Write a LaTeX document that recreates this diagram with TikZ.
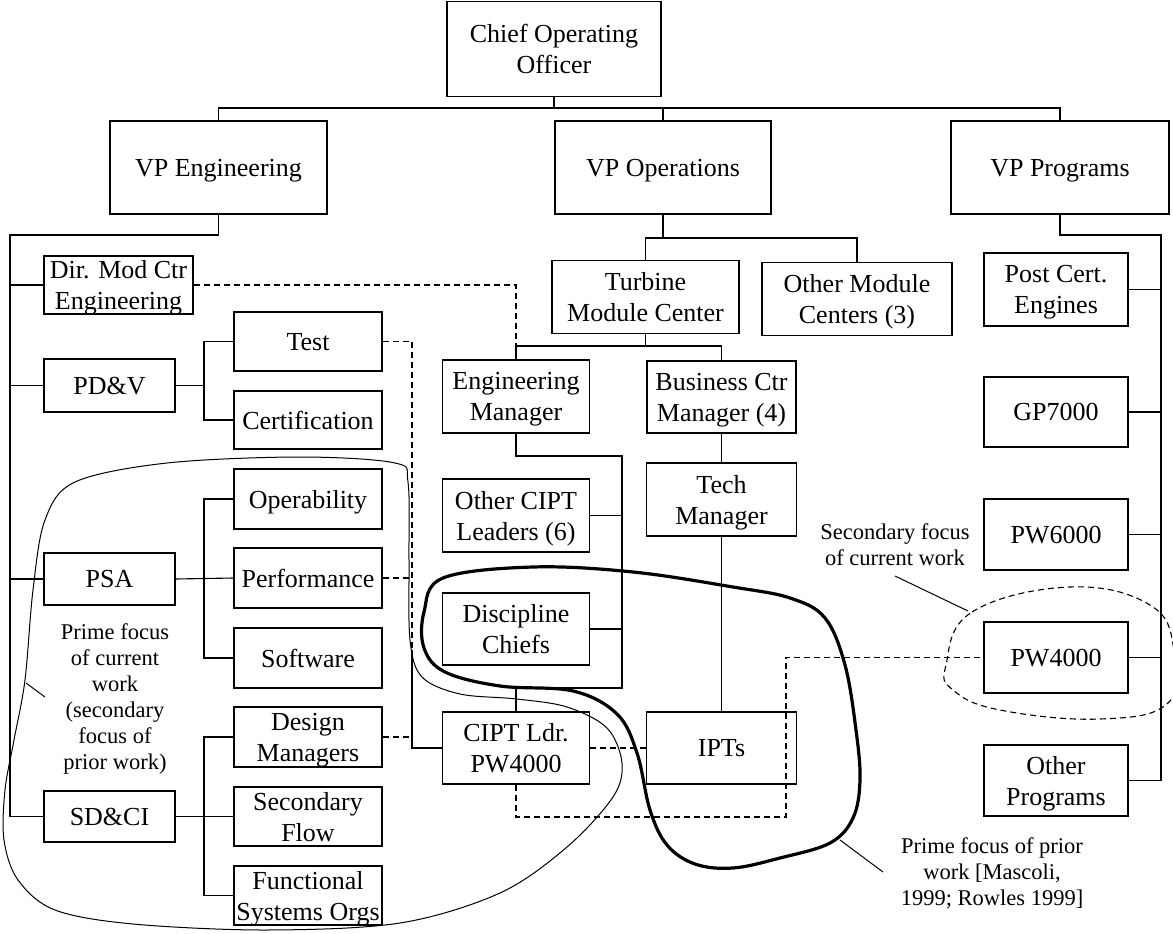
\documentclass[tikz,border=0pt]{standalone}
\usepackage{fontspec}
\setmainfont{Liberation Serif}
\begin{document}
\begin{tikzpicture}[x=1pt,y=-1pt,
  box/.style={draw, line width=1.2pt, rectangle, inner sep=0pt, align=center,
              text depth=0pt, font=\fontsize{26}{31}\selectfont},
  link/.style={line width=1.1pt},
  dlink/.style={line width=1.1pt, dash pattern=on 6pt off 4pt},
  note/.style={align=center, inner sep=0pt, font=\fontsize{22.5}{26}\selectfont},
  focusthin/.style={line width=1pt},
  focusthick/.style={line width=3.2pt},
  pointer/.style={line width=1pt}]
\useasboundingbox (0,0) rectangle (1173,934);

% ---- top level ----
\node[box, minimum width=214pt, minimum height=95pt] (coo) at (554,49) {Chief Operating\\Officer};
\node[box, minimum width=217pt, minimum height=93pt] (veng) at (218.5,167.5) {VP Engineering};
\node[box, minimum width=216pt, minimum height=93pt] (vops) at (663,167.5) {VP Operations};
\node[box, minimum width=218pt, minimum height=93pt] (vprog) at (1060,167.5) {VP Programs};

\coordinate (topbus) at (554,108);
\draw[link] (coo.south) -- (topbus);
\draw[link] (veng.north) |- (topbus) -| (vprog.north);
\draw[link] (vops.north) -- (vops.north |- topbus);

% ---- engineering ----
\node[box, minimum width=149pt, minimum height=58pt] (dir) at (118.5,285) {Dir. Mod Ctr\\Engineering};
\node[box, minimum width=131pt, minimum height=53pt] (pdv) at (109.5,385.5) {PD\&V};
\node[box, minimum width=131pt, minimum height=52pt] (psa) at (109.5,579) {PSA};
\node[box, minimum width=131pt, minimum height=51pt] (sdci) at (109.5,816.5) {SD\&CI};

\node[box, minimum width=148pt, minimum height=59pt] (test) at (308,341.5) {Test};
\node[box, minimum width=148pt, minimum height=58pt] (cert) at (308,420) {Certification};
\node[box, minimum width=148pt, minimum height=60pt] (oper) at (308,499) {Operability};
\node[box, minimum width=148pt, minimum height=60pt] (perf) at (308,578) {Performance};
\node[box, minimum width=148pt, minimum height=60pt] (soft) at (308,658) {Software};
\node[box, minimum width=148pt, minimum height=60pt] (dman) at (308,737) {Design\\Managers};
\node[box, minimum width=148pt, minimum height=59pt] (sflow) at (308,816.5) {Secondary\\Flow};
\node[box, minimum width=148pt, minimum height=59pt] (fso) at (308,895.5) {Functional\\Systems Orgs};

\coordinate (engbus) at (10,235);
\draw[link] (veng.south) |- (engbus) |- (sdci.west);
\draw[link] (dir.west) -- (dir.west -| engbus);
\draw[link] (pdv.west) -- (pdv.west -| engbus);
\draw[link] (psa.west) -- (psa.west -| engbus);

\coordinate (b1) at (204,385.5);
\coordinate (b2) at (204,578);
\coordinate (b3) at (204,816.5);
\draw[link] (pdv.east) -- (b1);
\draw[link] (test.west) -| (b1) |- (cert.west);
\draw[link] (psa.east) -- (perf.west);
\draw[link] (oper.west) -| (b2) |- (soft.west);
\draw[link] (sdci.east) -- (sflow.west);
\draw[link] (dman.west) -| (b3) |- (fso.west);

% ---- operations ----
\node[box, minimum width=187pt, minimum height=73pt] (tmc) at (645.5,297) {Turbine\\Module Center};
\node[box, minimum width=190pt, minimum height=73pt] (omc) at (857,299) {Other Module\\Centers (3)};
\node[box, minimum width=147pt, minimum height=73pt] (em) at (516,396.5) {Engineering\\Manager};
\node[box, minimum width=149pt, minimum height=72pt] (bcm) at (721.5,397) {Business Ctr\\Manager (4)};
\node[box, minimum width=150pt, minimum height=73pt] (tech) at (721.5,499.5) {Tech\\Manager};
\node[box, minimum width=147pt, minimum height=73pt] (ocipt) at (516,515.5) {Other CIPT\\Leaders (6)};
\node[box, minimum width=147pt, minimum height=72pt] (dc) at (516,629) {Discipline\\Chiefs};
\node[box, minimum width=147pt, minimum height=72pt] (cipt) at (516,748) {CIPT Ldr.\\PW4000};
\node[box, minimum width=150pt, minimum height=72pt] (ipts) at (721.5,748) {IPTs};

\coordinate (opsbus) at (663,238);
\draw[link] (vops.south) -- (opsbus);
\draw[link] (tmc.north) |- (opsbus) -| (omc.north);

\coordinate (tmcbus) at (645.5,346);
\draw[link] (tmc.south) -- (tmcbus);
\draw[link] (em.north) |- (tmcbus) -| (bcm.north);
\draw[link] (bcm.south) -- (tech.north);
\draw[link] (tech.south) -- (ipts.north);

\coordinate (emA) at (622,456);
\coordinate (emB) at (622,688);
\draw[link] (em.south) |- (emA) -- (emB) -| (cipt.north);
\draw[link] (ocipt.east) -- (ocipt.east -| emA);
\draw[link] (dc.east) -- (dc.east -| emA);

% ---- programs ----
\node[box, minimum width=144pt, minimum height=73pt] (post) at (1056,289.5) {Post Cert.\\Engines};
\node[box, minimum width=144pt, minimum height=70pt] (gp) at (1056,412) {GP7000};
\node[box, minimum width=144pt, minimum height=71pt] (pw6) at (1056,534.5) {PW6000};
\node[box, minimum width=144pt, minimum height=71pt] (pw4) at (1056,657.5) {PW4000};
\node[box, minimum width=144pt, minimum height=71pt] (oprog) at (1056,780.5) {Other\\Programs};

\coordinate (progbus) at (1161,235);
\draw[link] (vprog.south) |- (progbus) |- (oprog.east);
\draw[link] (post.east) -- (post.east -| progbus);
\draw[link] (gp.east) -- (gp.east -| progbus);
\draw[link] (pw6.east) -- (pw6.east -| progbus);
\draw[link] (pw4.east) -- (pw4.east -| progbus);

% ---- dotted-line relationships ----
\draw[dlink] (dir.east) -| (em.north |- tmcbus);
\coordinate (dv) at (412,650);
\draw[dlink] (test.east) -| (dv);
\draw[link] (dv) |- (cipt.west);
\draw[dlink] (perf.east) -- (perf.east -| dv);
\draw[dlink] (dman.east) -- (dman.east -| dv);
\draw[dlink] (cipt.east) -- (ipts.west);
\coordinate (pwc) at (786,817);
\draw[dlink] (cipt.south) |- (pwc) |- (pw4.west);

% ---- focus regions ----
\draw[focusthin] plot[smooth cycle, tension=0.55] coordinates {
  (75,482) (167,463) (300,457) (395,463) (408,482) (409,560) (410,640)
  (422,677) (460,694) (517,699) (567,707) (607,728) (622,763) (613,797)
  (567,847) (500,893) (400,923) (267,930) (133,924) (55,910) (18,880)
  (4,840) (5,790) (14,740) (25,680) (33,590) (45,520)};

\draw[focusthick] plot[smooth cycle, tension=0.6] coordinates {
  (443,578) (533,567) (633,572) (733,587) (790,598) (825,618) (845,665)
  (856,730) (860,780) (853,818) (830,843) (780,858) (733,868) (695,864)
  (667,845) (650,810) (637,753) (617,714) (573,691) (500,686) (445,672)
  (424,648) (424,612)};

\draw[line width=1.1pt, dash pattern=on 6pt off 4pt] plot[smooth cycle, tension=0.7] coordinates {
  (946,665) (972,612) (1070,587) (1150,605) (1174,650) (1168,703)
  (1100,719) (1000,710) (953,690)};

% ---- annotations ----
\node[note] (curnote) at (115,699) {Prime focus\\of current\\work\\(secondary\\focus of\\prior work)};
\coordinate (curtip) at (26,683);
\coordinate (curend) at (45,697);
\draw[pointer] (curtip) -- (curend);

\node[note] (secnote) at (895,545) {Secondary focus\\of current work};
\coordinate (sectail) at (895,576);
\coordinate (sectip) at (968,611);
\draw[pointer] (sectail) -- (sectip);

\node[note] (priornote) at (992,873) {Prime focus of prior\\work [Mascoli,\\1999; Rowles 1999]};
\coordinate (priortip) at (840,840);
\coordinate (priorend) at (883,872);
\draw[pointer] (priortip) -- (priorend);
\end{tikzpicture}
\end{document}
